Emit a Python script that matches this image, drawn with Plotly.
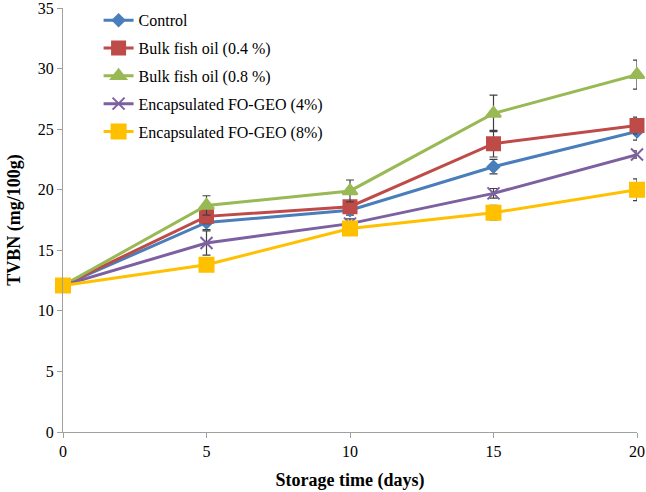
import plotly.graph_objects as go

days = [0, 5, 10, 15, 20]
names = ["Control", "Bulk fish oil (0.4 %)", "Bulk fish oil (0.8 %)",
         "Encapsulated FO-GEO (4%)", "Encapsulated FO-GEO (8%)"]
control = [12.1, 17.3, 18.3, 21.9, 24.8]
bulk04 = [12.1, 17.8, 18.6, 23.8, 25.3]
bulk08 = [12.1, 18.7, 19.9, 26.3, 29.5]
enc4 = [12.1, 15.6, 17.2, 19.7, 22.9]
enc8 = [12.1, 13.8, 16.8, 18.1, 20.0]
err_control = [0.2, 0.6, 0.4, 0.6, 0.7]
err_bulk04 = [0.2, 0.6, 0.5, 1.1, 0.7]
err_bulk08 = [0.2, 0.8, 0.9, 1.5, 1.2]
err_enc4 = [0.2, 1.0, 0.4, 0.4, 0.3]
err_enc8 = [0.2, 0.5, 0.3, 0.6, 0.9]
y_ticks = [0, 5, 10, 15, 20, 25, 30, 35]
x_ticks = [0, 5, 10, 15, 20]

series = [control, bulk04, bulk08, enc4, enc8]
errs = [err_control, err_bulk04, err_bulk08, err_enc4, err_enc8]
colors = ["#4a7ebb", "#be4b48", "#98b954", "#7d60a0", "#ffc000"]
symbols = ["diamond", "square", "triangle-up", "x-thin", "square"]
sizes = [9, 13, 13, 12, 14]

fig = go.Figure()
for i, (n, y, e, c, s, sz) in enumerate(zip(names, series, errs, colors, symbols, sizes)):
    fig.add_trace(go.Scatter(
        x=days, y=y, name=n, mode="lines+markers", legendgroup=f"g{i}",
        line=dict(color=c, width=3),
        marker=dict(symbol=s, size=sz, color=c, line=dict(color=c, width=2)),
        error_y=dict(type="data", array=e, visible=True, color="#404040",
                     thickness=1.2, width=4),
        cliponaxis=False,
    ))

fig.update_layout(
    width=646, height=492,
    margin=dict(l=63, r=9, t=8, b=60, autoexpand=False),
    plot_bgcolor="white", paper_bgcolor="white",
    font=dict(family="Liberation Serif", size=16, color="black"),
    showlegend=True,
    legend=dict(x=0.062, y=1.011, xanchor="left", yanchor="top",
                bgcolor="rgba(0,0,0,0)", font=dict(size=16),
                tracegroupgap=4),
    xaxis=dict(range=[0, 20], tickvals=x_ticks,
               showline=True, linecolor="#a0a0a0", linewidth=1,
               ticks="outside", tickcolor="#a0a0a0", ticklen=5,
               ticklabeloverflow="allow",
               showgrid=False, zeroline=False, automargin=False,
               title=dict(text="<b>Storage time (days)</b>", font=dict(size=18), standoff=14)),
    yaxis=dict(range=[0, 35], tickvals=y_ticks,
               showline=True, linecolor="#a0a0a0", linewidth=1,
               ticks="outside", tickcolor="#a0a0a0", ticklen=5,
               ticklabeloverflow="allow",
               showgrid=False, zeroline=False, automargin=False,
               title=dict(text="<b>TVBN (mg/100g)</b>", font=dict(size=18), standoff=12)),
)

fig.write_html("out.html", config={"displayModeBar": False},
               post_script="document.body.style.margin='0';")
